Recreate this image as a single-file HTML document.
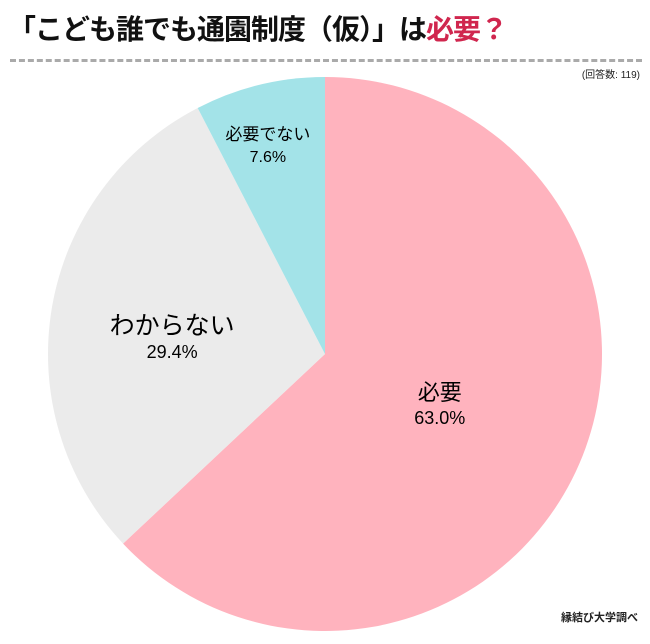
<!DOCTYPE html>
<html><head><meta charset="utf-8"><style>
body{margin:0;background:#fff;width:650px;height:644px;overflow:hidden;font-family:"Liberation Sans","Noto Sans CJK JP",sans-serif;position:relative}
#title{position:absolute;left:8px;top:8px;font-size:28px;font-weight:bold;color:#111;white-space:nowrap;letter-spacing:-1px}
#title span{color:#d0264e}
#dash{position:absolute;left:10px;top:59px;width:632px;border-top:3px dashed #aaa}
#n{position:absolute;right:10px;top:66px;font-size:10px;color:#222}
#src{position:absolute;right:12px;top:609px;font-size:11px;font-weight:bold;color:#222}
svg{position:absolute;left:0;top:0}
</style></head><body>
<div id="title">「こども誰でも通園制度（仮）」は<span>必要？</span></div>
<div id="dash"></div>
<div id="n">(回答数: 119)</div>
<div id="src">縁結び大学調べ</div>
<svg id="pie" width="650" height="644"></svg>
<script>
const categories=["必要","わからない","必要でない"];
const values=[63.0,29.4,7.6];
const labels=["63.0%","29.4%","7.6%"];
const colors=["#ffb3be","#ebebeb","#a3e3e8"];
const cx=325,cy=354,r=277;
const svg=document.getElementById('pie');
const NS="http://www.w3.org/2000/svg";
const total=values.reduce((a,b)=>a+b,0);
const pt=(a,rr)=>[cx+rr*Math.sin(a),cy-rr*Math.cos(a)];
let a0=0;
const conf=[{rf:0.42,s1:22,s2:18,dx:8,dy:4},{rf:0.56,s1:25,s2:18,dx:0,dy:10},{rf:0.78,s1:17,s2:16,dx:-6,dy:0}];
values.forEach((v,i)=>{
  const a1=a0+v/total*2*Math.PI;
  const p0=pt(a0,r),p1=pt(a1,r);
  const path=document.createElementNS(NS,'path');
  path.setAttribute('d',`M${cx},${cy}L${p0[0]},${p0[1]}A${r},${r} 0 ${a1-a0>Math.PI?1:0} 1 ${p1[0]},${p1[1]}Z`);
  path.setAttribute('fill',colors[i]);
  
  
  svg.appendChild(path);
  const c=conf[i]||{rf:0.6,s1:18,s2:16,dx:0,dy:0};
  const m=pt((a0+a1)/2,r*c.rf);
  const x=m[0]+c.dx,y=m[1]+c.dy;
  const t1=document.createElementNS(NS,'text');
  t1.setAttribute('x',x);t1.setAttribute('y',y-4);
  t1.setAttribute('text-anchor','middle');t1.setAttribute('font-size',c.s1);
  t1.textContent=categories[i];
  
  
  svg.appendChild(t1);
  const t2=document.createElementNS(NS,'text');
  t2.setAttribute('x',x);t2.setAttribute('y',y+c.s2+2);
  t2.setAttribute('text-anchor','middle');t2.setAttribute('font-size',c.s2);
  t2.textContent=labels[i];
  
  
  svg.appendChild(t2);
  a0=a1;
});
</script>
</body></html>
